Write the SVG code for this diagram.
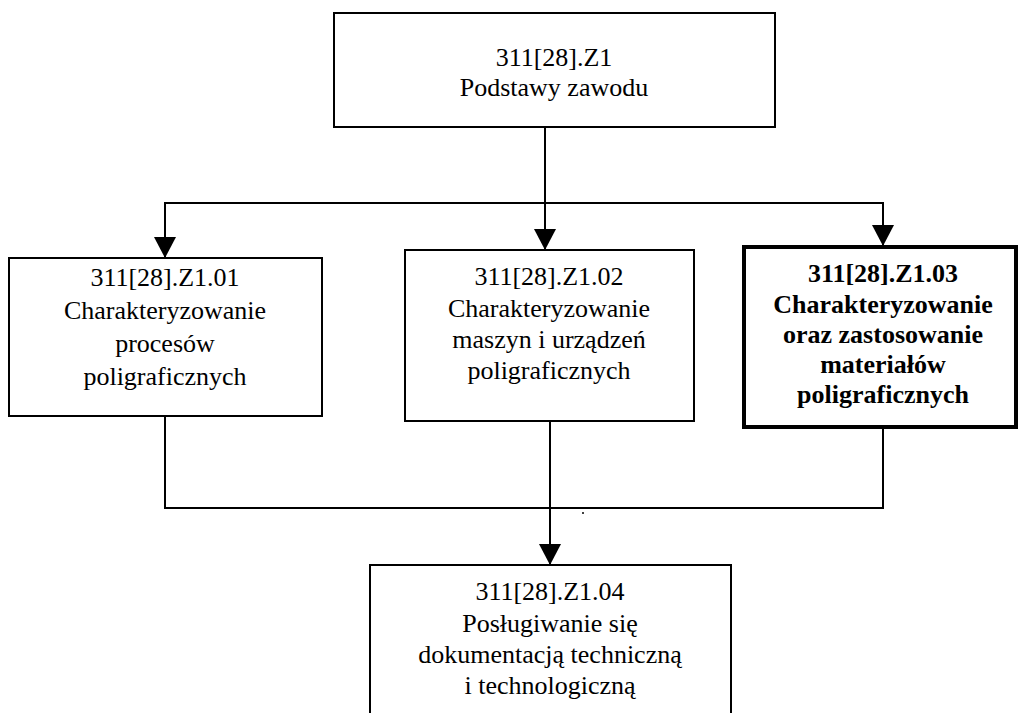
<svg xmlns="http://www.w3.org/2000/svg" width="1018" height="713" viewBox="0 0 1018 713">
<style>
.box{fill:#fff;stroke:#000;stroke-width:2}
.bold{fill:#fff;stroke:#000;stroke-width:4}
.t{font-size:26px;fill:#000;text-anchor:middle}
.tb{font-weight:bold}
.c{stroke:#000;stroke-width:2;fill:none}
</style>
<defs>
<marker id="ah" markerUnits="userSpaceOnUse" markerWidth="22" markerHeight="22" viewBox="0 0 22 22" refX="21" refY="11" orient="auto">
<path d="M0,0 L21,11 L0,22 Z" fill="#000"/>
</marker>
</defs>
<rect width="1018" height="713" fill="#fff"/>
<g id="connectors">
<line class="c" x1="545" y1="127" x2="545" y2="250" marker-end="url(#ah)"/>
<line class="c" x1="165" y1="203" x2="884" y2="203"/>
<line class="c" x1="165" y1="202" x2="165" y2="258" marker-end="url(#ah)"/>
<line class="c" x1="883" y1="202" x2="883" y2="246" marker-end="url(#ah)"/>
<line class="c" x1="165" y1="417" x2="165" y2="509"/>
<line class="c" x1="883" y1="428" x2="883" y2="509"/>
<line class="c" x1="164" y1="508" x2="884" y2="508"/>
<line class="c" x1="550" y1="421" x2="550" y2="565" marker-end="url(#ah)"/>
<circle cx="583" cy="513" r="1" fill="#000"/>
</g>
<g font-family="Liberation Serif, Tinos, Times New Roman, DejaVu Serif, serif">
<g id="n0">
<rect class="box" x="334" y="13" width="441" height="114"/>
<text class="t" x="554" y="66">311[28].Z1</text>
<text class="t" x="554" y="96">Podstawy zawodu</text>
</g>
<g id="n1">
<rect class="box" x="9" y="258" width="313" height="158"/>
<text class="t" x="165" y="286">311[28].Z1.01</text>
<text class="t" x="165" y="319">Charakteryzowanie</text>
<text class="t" x="165" y="352">procesów</text>
<text class="t" x="165" y="385">poligraficznych</text>
</g>
<g id="n2">
<rect class="box" x="405" y="250" width="289" height="171"/>
<text class="t" x="549" y="285">311[28].Z1.02</text>
<text class="t" x="549" y="317">Charakteryzowanie</text>
<text class="t" x="549" y="348">maszyn i urządzeń</text>
<text class="t" x="549" y="379">poligraficznych</text>
</g>
<g id="n3">
<rect class="bold" x="744" y="247" width="272" height="180"/>
<text class="t tb" x="883" y="282">311[28].Z1.03</text>
<text class="t tb" x="883" y="313">Charakteryzowanie</text>
<text class="t tb" x="883" y="343">oraz zastosowanie</text>
<text class="t tb" x="883" y="373">materiałów</text>
<text class="t tb" x="883" y="403">poligraficznych</text>
</g>
<g id="n4">
<rect class="box" x="370" y="565" width="361" height="160"/>
<text class="t" x="550" y="600">311[28].Z1.04</text>
<text class="t" x="550" y="632">Posługiwanie się</text>
<text class="t" x="550" y="663">dokumentacją techniczną</text>
<text class="t" x="550" y="694">i technologiczną</text>
</g>
</g>
</svg>
